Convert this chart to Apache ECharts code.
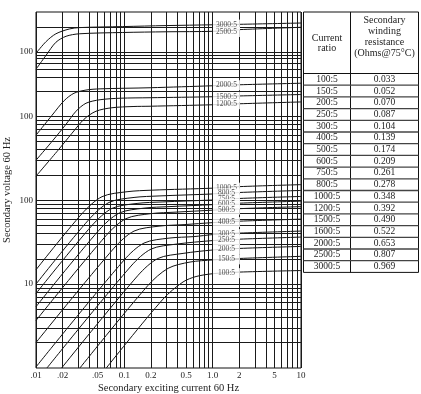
<!DOCTYPE html>
<html><head><meta charset="utf-8">
<script src="https://cdn.jsdelivr.net/npm/echarts@6.0.0/dist/echarts.min.js"></script>
<style>html,body{margin:0;padding:0;background:#fff}#c{width:421px;height:394px}</style>
</head><body><div id="c"></div>
<script>
// ---- data (exciting current A, secondary voltage V) ----
const curveNames = ['3000:5','2500:5','2000:5','1500:5','1200:5','1000:5','800:5','750:5','600:5','500:5','400:5','300:5','250:5','200:5','150:5','100:5'];
const c3000 = [[0.01,5623],[0.0130,7751],[0.0168,9597],[0.0238,10950],[0.0309,11375],[0.0959,11695],[0.2967,12020],[1.01,12285],[2.04,12450],[10,12900]];
const c2500 = [[0.01,3627],[0.0130,5323],[0.0168,7603],[0.0219,8964],[0.0309,9597],[0.0959,9945],[0.2967,10140],[1.01,10275],[2.04,10770],[10,11470]];
const c2000 = [[0.01,594],[0.0152,1028],[0.0208,1530],[0.0269,1878],[0.0368,2050],[0.0531,2119],[0.1955,2184],[1.01,2307],[2.04,2371],[10,2472]];
const c1500 = [[0.01,299],[0.0156,518],[0.0219,803],[0.0284,1147],[0.0368,1428],[0.0531,1572],[0.0894,1638],[0.1955,1661],[1.01,1707],[2.04,1745],[10,1813]];
const c1200 = [[0.01,193],[0.0178,394],[0.0256,628],[0.0350,921],[0.0478,1147],[0.0725,1262],[0.1255,1305],[0.1955,1315],[1.01,1370],[2.04,1408],[10,1480]];
const c1000 = [[0.01,14.8],[0.0332,69.1],[0.0559,110],[0.1073,126],[0.2059,131.5],[1.01,139],[2.04,145],[10,153]];
const c800  = [[0.01,10.0],[0.0398,58.9],[0.0671,93.9],[0.1288,107.7],[0.2471,112.2],[1.01,118.5],[2.04,123.5],[10,130.5]];
const c750  = [[0.01,7.71],[0.0431,50.0],[0.0725,79.7],[0.1393,91.4],[0.2673,95.2],[1.01,100.5],[2.04,104.8],[10,110.7]];
const c600  = [[0.01,5.38],[0.0517,43.9],[0.0871,70.0],[0.1671,80.3],[0.3208,83.7],[1.01,88.4],[2.04,92.1],[10,97.3]];
const c500  = [[0.01,3.68],[0.0621,37.8],[0.1045,60.2],[0.2006,69.1],[0.3851,72.0],[1.01,76.0],[2.04,79.2],[10,83.7]];
const c400  = [[0.01,2.01],[0.0764,26.8],[0.1288,42.8],[0.2471,49.0],[0.4744,51.1],[1.01,54.0],[2.04,56.2],[10,59.4]];
const c300  = [[0.01,1.03],[0.0992,19.3],[0.1671,30.8],[0.3208,35.3],[0.6156,36.8],[1.01,38.9],[2.04,40.5],[10,42.8]];
const c250  = [[0.0133,1],[0.1191,16.4],[0.2006,26.1],[0.3851,29.9],[1.01,33.0],[2.04,34.3],[10,36.3]];
const c200  = [[0.0195,1],[0.1429,12.7],[0.2408,20.2],[0.4622,23.2],[1.01,25.5],[2.04,26.6],[10,28.1]];
const c150  = [[0.0314,1],[0.1855,9.65],[0.3126,15.4],[0.5546,18.3],[1.01,19.4],[2.04,20.2],[10,21.4]];
const c100  = [[0.0625,1],[0.2744,6.63],[0.4622,10.6],[0.6486,12.3],[1.01,13.3],[2.04,13.9],[10,14.5]];
const curves = [c3000,c2500,c2000,c1500,c1200,c1000,c800,c750,c600,c500,c400,c300,c250,c200,c150,c100];
// curve label positions (voltage where label sits)
const labelCurrent = 1.435;
const labelVoltages = [12350,10080,2339,1698,1390,140.8,120.2,102.0,90.1,77.1,54.7,39.4,33.4,25.9,19.7,13.5];

// axis ticks and grid
const xTickValues = [0.01,0.02,0.05,0.1,0.2,0.5,1,2,5,10];
const xTickLabels = ['.01','.02','.05','0.1','0.2','0.5','1.0','2','5','10'];
const xGridValues = [0.01,0.02,0.03,0.04,0.05,0.06,0.07,0.08,0.09,0.1,0.2,0.3,0.4,0.5,0.6,0.7,0.8,0.9,1,2,3,4,5,6,7,8,9,10];
const yTickValues = [5860,1000,100,10];
const yTickLabels = ['100','100','100','10'];
const yGridValues = [2,3,4,5,6,7,8,9,10,20,30,40,50,60,70,80,90,100,200,300,400,500,600,700,800,900,1000,2000,2910,3600,4330,4900,5400,5860,11380];

// table
const tableRatios = ['100:5','150:5','200:5','250:5','300:5','400:5','500:5','600:5','750:5','800:5','1000:5','1200:5','1500:5','1600:5','2000:5','2500:5','3000:5'];
const tableResist = ['0.033','0.052','0.070','0.087','0.104','0.139','0.174','0.209','0.261','0.278','0.348','0.392','0.490','0.522','0.653','0.807','0.969'];

const FONT = 'Liberation Serif';
const TXT = '#222';

const markData = [];
xGridValues.forEach(v => {
  const i = xTickValues.indexOf(v);
  const d = {xAxis: v};
  if (i >= 0) d.label = {show: true, position: 'start', formatter: xTickLabels[i], distance: 3, fontSize: 9, fontFamily: FONT, color: TXT};
  markData.push(d);
});
yGridValues.forEach(v => {
  const i = yTickValues.indexOf(v);
  const d = {yAxis: v};
  if (i >= 0) d.label = {show: true, position: 'start', formatter: yTickLabels[i], distance: 3, fontSize: 9, fontFamily: FONT, color: TXT};
  markData.push(d);
});

// table graphic
const T = {l: 303.5, r: 418.5, mid: 350.5, top: 12, head: 73.5, rowH: 11.7};
const g = [];
const nRows = tableRatios.length;
const bottom = T.head + nRows * T.rowH;
g.push({type: 'rect', shape: {x: T.l, y: T.top, width: T.r - T.l, height: bottom - T.top}, style: {fill: 'none', stroke: '#111', lineWidth: 1}});
g.push({type: 'line', shape: {x1: T.mid, y1: T.top, x2: T.mid, y2: bottom}, style: {stroke: '#111', lineWidth: 1}});
g.push({type: 'line', shape: {x1: T.l, y1: T.head, x2: T.r, y2: T.head}, style: {stroke: '#111', lineWidth: 1}});
for (let i = 1; i < nRows; i++) {
  const y = T.head + i * T.rowH;
  g.push({type: 'line', shape: {x1: T.l, y1: y, x2: T.r, y2: y}, style: {stroke: '#444', lineWidth: 1.3}});
}
const c1x = (T.l + T.mid) / 2, c2x = (T.mid + T.r) / 2;
[['Current', 38], ['ratio', 48]].forEach(([t, y]) => g.push({type: 'text', x: c1x, y: y, style: {text: t, fill: TXT, font: '10px ' + FONT, textAlign: 'center', textVerticalAlign: 'middle'}}));
[['Secondary', 20], ['winding', 31], ['resistance', 42], ['(Ohms@75°C)', 53]].forEach(([t, y]) => g.push({type: 'text', x: c2x, y: y, style: {text: t, fill: TXT, font: '10px ' + FONT, textAlign: 'center', textVerticalAlign: 'middle'}}));
tableRatios.forEach((t, i) => {
  const y = T.head + (i + 0.5) * T.rowH;
  g.push({type: 'text', x: c1x, y: y, style: {text: t, fill: TXT, font: '9.5px ' + FONT, textAlign: 'center', textVerticalAlign: 'middle'}});
  g.push({type: 'text', x: c2x, y: y, style: {text: tableResist[i], fill: TXT, font: '9.5px ' + FONT, textAlign: 'center', textVerticalAlign: 'middle'}});
});

const chart = echarts.init(document.getElementById('c'), null, {renderer: 'canvas'});
chart.setOption({
  animation: false,
  backgroundColor: '#fff',
  grid: {left: 36, top: 12, width: 265, height: 356, containLabel: false, outerBoundsMode: 'none',
    show: true, borderColor: '#111', borderWidth: 1, backgroundColor: 'transparent'},
  xAxis: {type: 'log', logBase: 10, min: 0.01, max: 10,
    axisLine: {show: false}, axisTick: {show: false}, axisLabel: {show: false}, splitLine: {show: false},
    name: 'Secondary exciting current 60 Hz', nameLocation: 'middle', nameGap: 15,
    nameTextStyle: {fontSize: 10.5, fontFamily: FONT, color: TXT}},
  yAxis: {type: 'log', logBase: 10, min: 1, max: 17450,
    axisLine: {show: false}, axisTick: {show: false}, axisLabel: {show: false}, splitLine: {show: false},
    name: 'Secondary voltage 60 Hz', nameLocation: 'middle', nameGap: 23,
    nameTextStyle: {fontSize: 10.5, fontFamily: FONT, color: TXT}},
  graphic: g,
  series: [
    {type: 'line', data: [], silent: true, z: 1,
      markLine: {silent: true, symbol: ['none', 'none'], animation: false,
        lineStyle: {type: 'solid', color: '#1a1a1a', width: 1},
        label: {show: false}, emphasis: {disabled: true}, data: markData}},
    ...curves.map((c, i) => ({type: 'line', name: curveNames[i], data: c, smooth: 0.3,
      showSymbol: false, symbol: 'none', silent: true, z: 3, lineStyle: {color: '#111', width: 1}})),
    {type: 'scatter', silent: true, z: 6, symbolSize: 1, itemStyle: {color: 'rgba(0,0,0,0)'},
      data: labelVoltages.map(v => [labelCurrent, v]),
      label: {show: true, position: 'inside', formatter: p => curveNames[p.dataIndex],
        backgroundColor: '#fff', padding: [1, 2], width: 23, align: 'center', lineHeight: 8,
        fontSize: 7.5, fontFamily: FONT, color: TXT}, labelLayout: {hideOverlap: false}}
  ]
});
</script></body></html>
